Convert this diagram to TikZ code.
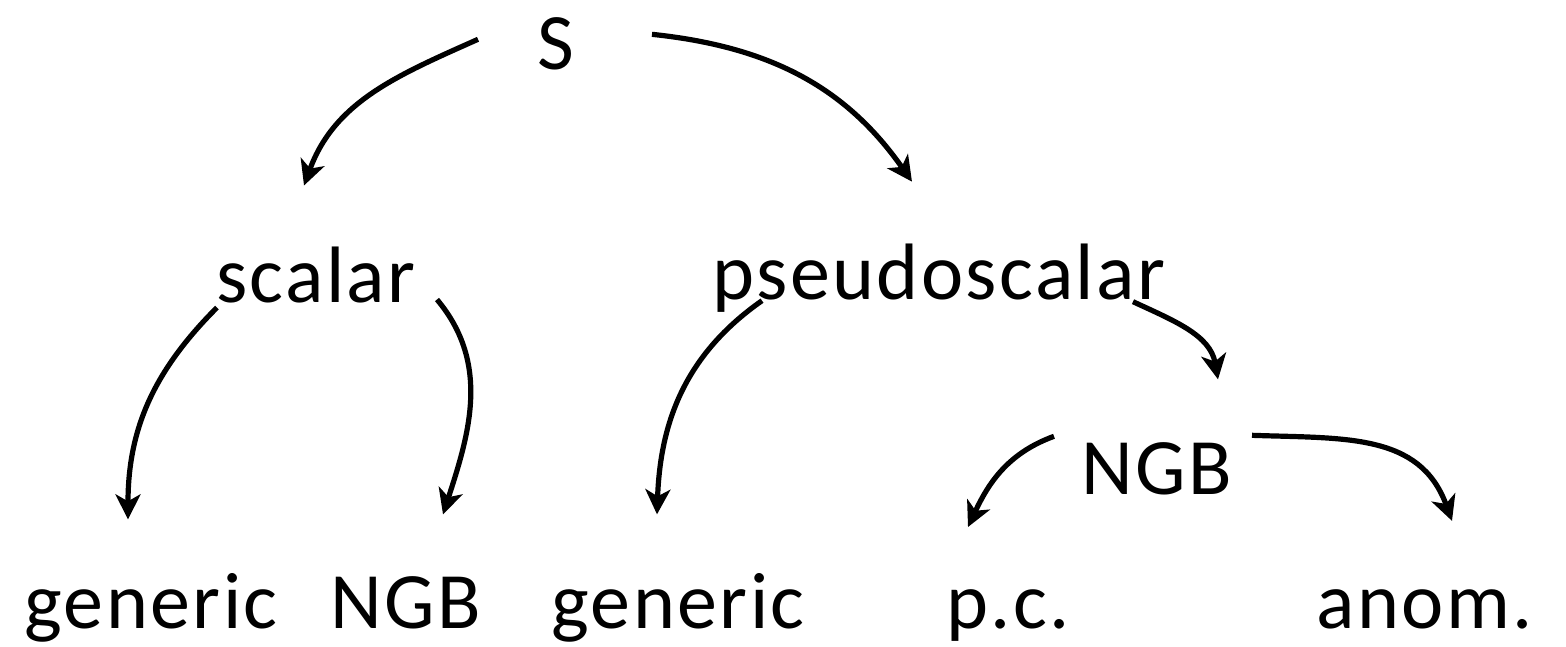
\documentclass[tikz,border=0pt]{standalone}
\usepackage{fontspec}
\setmainfont{Carlito}[LetterSpace=3]
\usetikzlibrary{arrows.meta,calc}
\begin{document}
\begin{tikzpicture}[x=1pt,y=1pt,
  lbl/.style={anchor=base,inner sep=0pt,font=\fontsize{80}{96}\selectfont},
  conn/.style={line width=5.2pt,-{Stealth[length=25pt,width=25pt,inset=7pt]}}]
\useasboundingbox (0,0) rectangle (1566,646);
% nodes
\node[lbl] (S) at (556,576) {S};
\node[lbl] (scalar) at (316,343) {scalar};
\node[lbl] (pseudo) at (939,346) {pseudoscalar};
\node[lbl] (ngbm) at (1157,152) {NGB};
\node[lbl] (gen1) at (151,18) {generic};
\node[lbl] (ngbb) at (406,18) {NGB};
\node[lbl] (gen2) at (678,18) {generic};
\node[lbl] (pc) at (1008,18) {p.c.};
\node[lbl] (anom) at (1425,18) {anom.};
% connector ends
\coordinate (a1) at ($(S)+(-78,5)$);
\coordinate (b1) at ($(scalar)+(-12,90)$);
\coordinate (a2) at ($(S)+(96,10)$);
\coordinate (b2) at ($(pseudo)+(-27,97)$);
\coordinate (a3) at ($(scalar)+(-99,-32)$);
\coordinate (b3) at ($(gen1)+(-23,88)$);
\coordinate (a4) at ($(scalar)+(121,-24)$);
\coordinate (b4) at ($(ngbb)+(37,88)$);
\coordinate (a5) at ($(pseudo)+(-177,-22)$);
\coordinate (b5) at ($(gen2)+(-21,93)$);
\coordinate (a6) at ($(pseudo)+(194,-23)$);
\coordinate (b6) at ($(ngbm)+(61,89)$);
\coordinate (a7) at ($(ngbm)+(-103,32)$);
\coordinate (b7) at ($(pc)+(-40,88)$);
\coordinate (a8) at ($(ngbm)+(95,33)$);
\coordinate (b8) at ($(anom)+(27,88)$);
% connectors
\draw[conn] (a1) to[out=204,in=70] (b1);
\draw[conn] (a2) to[out=-6,in=125] (b2);
\draw[conn] (a3) to[out=225,in=90] (b3);
\draw[conn] (a4) to[out=-50,in=72] (b4);
\draw[conn] (a5) to[out=215,in=88] (b5);
\draw[conn] (a6) to[out=-25,in=100] (b6);
\draw[conn] (a7) to[out=200,in=65] (b7);
\draw[conn] (a8) to[out=-2,in=110,looseness=1.1] (b8);
\end{tikzpicture}
\end{document}
